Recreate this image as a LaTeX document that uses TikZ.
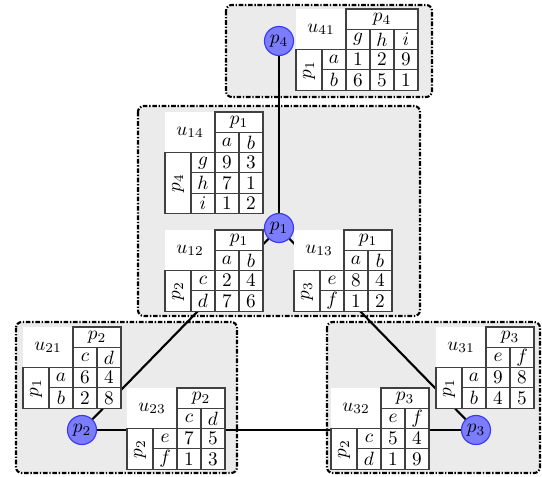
\documentclass[tikz,border=0pt]{standalone}
\definecolor{boxgray}{HTML}{EBEBEB}
\definecolor{pfill}{HTML}{7C7CFF}
\definecolor{pdraw}{HTML}{3A3AF0}
\tikzset{
  clusterbox/.style={fill=boxgray, draw=black, line width=1.1pt, rounded corners=3pt,
    dash pattern=on 2.4pt off 0.9pt on 0.7pt off 0.9pt},
  edge/.style={line width=1.1pt, draw=black},
  pnode/.style={circle, fill=pfill, draw=pdraw, line width=0.6pt, minimum size=15.1pt, inner sep=0pt},
  cell/.style={inner sep=0pt},
  tgrid/.style={draw=black!75, line width=0.55pt},
}
% #1 name, #2 x,y, #3 u label, #4 column header, #5 row header, #6 n cols, #7 m rows, #8 col labels, #9 rows
\newcommand\ftab[9]{%
\begin{scope}[shift={(#2)}]
\pgfmathsetmacro\tW{50+24*#6}
\pgfmathsetmacro\tH{20.3*(2+#7)}
\pgfmathtruncatemacro\nA{#6-1}
\pgfmathtruncatemacro\mA{#7-1}
\fill[white] (0,0) rectangle (\tW,\tH);
\draw[tgrid] (50,0) rectangle (\tW,40.6);
\draw[tgrid] (50,20.3) -- (\tW,20.3);
\draw[tgrid] (0,40.6) rectangle (\tW,\tH);
\draw[tgrid] (26,40.6) -- (26,\tH);
\draw[tgrid] (50,40.6) -- (50,\tH);
\foreach \k in {1,...,\nA} {\draw[tgrid] ({50+24*\k},20.3) -- ({50+24*\k},\tH);}
\foreach \k in {1,...,\mA} {\draw[tgrid] (26,{40.6+20.3*\k}) -- (\tW,{40.6+20.3*\k});}
\node[cell] (#1-u) at (25,20.3) {$#3$};
\node[cell] (#1-ch) at ({50+12*#6},10.15) {$#4$};
\node[cell,rotate=90] (#1-rh) at (13,{40.6+10.15*#7}) {$#5$};
\foreach \c [count=\j] in {#8} {\node[cell] (#1-c\j) at ({38+24*\j},30.45) {$\c$};}
\foreach \rw [count=\i] in {#9} {%
  \foreach \v [count=\j] in \rw {\node[cell] (#1-\i-\j) at ({14+24*\j},{30.45+20.3*\i}) {$\v$};}}
\end{scope}}
\begin{document}
\begin{tikzpicture}[x=0.52pt,y=-0.52pt]
\useasboundingbox (0,0) rectangle (542,476);
% clusters
\draw[clusterbox] (226,5) rectangle (432,97);
\draw[clusterbox] (138,106) rectangle (420,316);
\draw[clusterbox] (16,322) rectangle (237,473);
\draw[clusterbox] (327,322) rectangle (540,473);
% variable nodes
\node[pnode] (p4) at (279,41) {$p_4$};
\node[pnode] (p1) at (279,228) {$p_1$};
\node[pnode] (p2) at (82,430) {$p_2$};
\node[pnode] (p3) at (476,430) {$p_3$};
% edges
\draw[edge] (p4) -- (p1);
\draw[edge] (p1) -- (p2);
\draw[edge] (p1) -- (p3);
\draw[edge] (p2) -- (p3);
% tables
\ftab{t41}{296,9}{u_{41}}{p_4}{p_1}{3}{2}{g,h,i}{{a,1,2,9},{b,6,5,1}}
\ftab{t14}{165,112}{u_{14}}{p_1}{p_4}{2}{3}{a,b}{{g,9,3},{h,7,1},{i,1,2}}
\ftab{t12}{165,230}{u_{12}}{p_1}{p_2}{2}{2}{a,b}{{c,2,4},{d,7,6}}
\ftab{t13}{294,230}{u_{13}}{p_1}{p_3}{2}{2}{a,b}{{e,8,4},{f,1,2}}
\ftab{t21}{23,327}{u_{21}}{p_2}{p_1}{2}{2}{c,d}{{a,6,4},{b,2,8}}
\ftab{t23}{127,388}{u_{23}}{p_2}{p_2}{2}{2}{c,d}{{e,7,5},{f,1,3}}
\ftab{t31}{436,327}{u_{31}}{p_3}{p_1}{2}{2}{e,f}{{a,9,8},{b,4,5}}
\ftab{t32}{331,388}{u_{32}}{p_3}{p_2}{2}{2}{e,f}{{c,5,4},{d,1,9}}
\end{tikzpicture}
\end{document}
